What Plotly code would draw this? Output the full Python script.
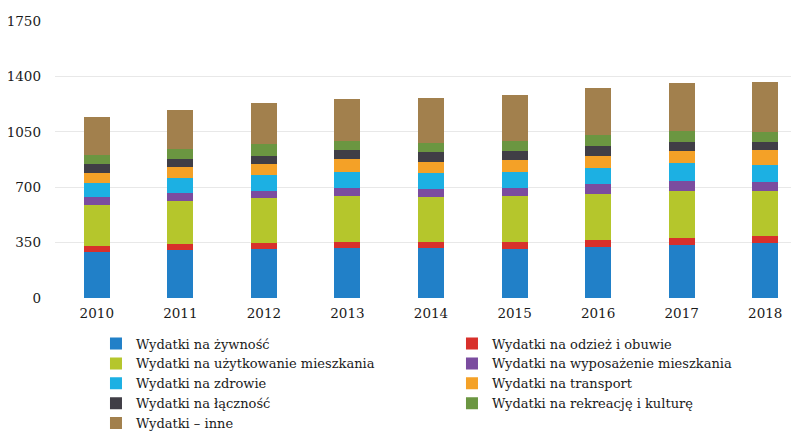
import plotly.graph_objects as go

years = ["2010", "2011", "2012", "2013", "2014", "2015", "2016", "2017", "2018"]

zywnosc = [291, 303, 310, 316, 318, 310, 324, 335, 350]
odziez = [38, 36, 40, 38, 34, 42, 42, 42, 44]
uzytkowanie = [259, 274, 281, 288, 284, 291, 293, 301, 281]
wyposazenie = [51, 52, 48, 51, 54, 51, 59, 61, 59]
zdrowie = [88, 91, 97, 104, 101, 105, 105, 116, 106]
transport = [63, 73, 71, 82, 70, 72, 74, 76, 92]
lacznosc = [57, 47, 51, 54, 61, 59, 63, 57, 53]
rekreacja = [57, 63, 74, 61, 59, 63, 68, 70, 61]
inne = [240, 248, 259, 264, 284, 291, 297, 303, 316]

series = [
    ("Wydatki na żywność", zywnosc, "#2180c8"),
    ("Wydatki na odzież i obuwie", odziez, "#d8302b"),
    ("Wydatki na użytkowanie mieszkania", uzytkowanie, "#b5c62c"),
    ("Wydatki na wyposażenie mieszkania", wyposazenie, "#7b4c9f"),
    ("Wydatki na zdrowie", zdrowie, "#1cb0e3"),
    ("Wydatki na transport", transport, "#f4a127"),
    ("Wydatki na łączność", lacznosc, "#403e46"),
    ("Wydatki na rekreację i kulturę", rekreacja, "#6b9641"),
    ("Wydatki – inne", inne, "#a2804d"),
]

y_ticks = [0, 350, 700, 1050, 1400, 1750]

fig = go.Figure()
for name, vals, color in series:
    fig.add_trace(go.Bar(x=years, y=vals, name=name, marker_color=color,
                         marker_line_width=0, width=0.31))

font_family = "DejaVu Serif"
fig.update_layout(
    barmode="stack",
    width=799, height=432,
    margin=dict(l=47, r=0, t=13, b=142, autoexpand=False),
    paper_bgcolor="white", plot_bgcolor="white",
    font=dict(family=font_family, size=13, color="#1a1a1a"),
    xaxis=dict(type="category", range=[-0.5, 8.5], showgrid=False,
               showline=False, ticks="", ticklabelstandoff=5,
               tickfont=dict(size=13.5)),
    yaxis=dict(range=[0, 1750], tickvals=y_ticks, showgrid=True,
               gridcolor="#e8e8e8", gridwidth=1, zeroline=False,
               showline=False, ticks="", ticklabelstandoff=13,
               tickfont=dict(size=13.5)),
    legend=dict(orientation="h", x=0.0545, xanchor="left",
                yref="container", y=0.258, yanchor="top",
                entrywidth=311, entrywidthmode="pixels",
                font=dict(size=13, family=font_family), traceorder="normal",
                bgcolor="rgba(0,0,0,0)"),
    showlegend=True,
)

fig.write_html("out.html")
